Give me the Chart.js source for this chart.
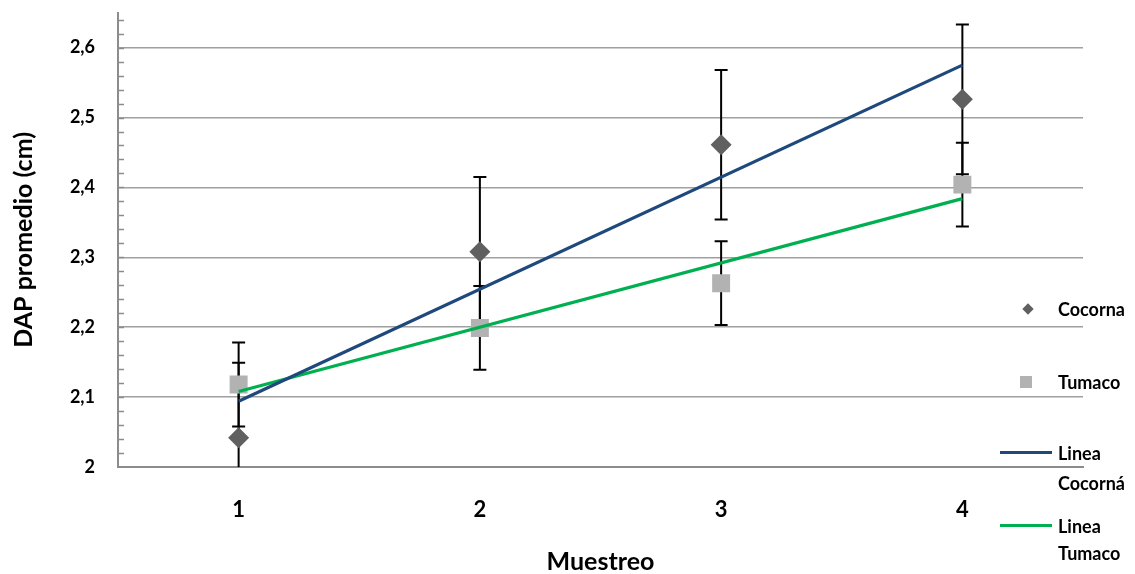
<!DOCTYPE html>
<html>
<head>
<meta charset="utf-8">
<script src="https://cdn.jsdelivr.net/npm/chart.js@4.4.0/dist/chart.umd.min.js"></script>
<style>
  body { margin: 0; background: #fff; }
  #wrap { position: relative; width: 1135px; height: 574px; }
  .lg { position: absolute; font: bold 18px Lato, sans-serif; line-height: 20px; color: #000; white-space: nowrap; }
  .mk { position: absolute; }
</style>
</head>
<body>
<div id="wrap">
  <canvas id="chart" width="1135" height="574"></canvas>
  <div class="mk" style="left:1024px;top:305px;width:8px;height:8px;background:#606060;transform:rotate(45deg)"></div>
  <div class="lg" style="left:1058px;top:299px">Cocorna</div>
  <div class="mk" style="left:1020px;top:376px;width:12px;height:12px;background:#b2b2b2"></div>
  <div class="lg" style="left:1058px;top:372px">Tumaco</div>
  <div class="mk" style="left:1000px;top:451px;width:52px;height:3px;background:#1f497d"></div>
  <div class="lg" style="left:1058px;top:443px">Linea</div>
  <div class="lg" style="left:1058px;top:473px">Cocorná</div>
  <div class="mk" style="left:1000px;top:524px;width:52px;height:3px;background:#00b050"></div>
  <div class="lg" style="left:1058px;top:516px">Linea</div>
  <div class="lg" style="left:1058px;top:543px">Tumaco</div>
</div>
<script>
// data
const categories = ["1", "2", "3", "4"];
const cocorna = [2.042, 2.308, 2.461, 2.526];
const tumaco = [2.118, 2.199, 2.263, 2.404];
const errCocorna = [0.107, 0.107, 0.107, 0.107];
const errTumaco = [0.06, 0.06, 0.06, 0.06];
// trend lines: only the end points, drawn straight across
const lineCocorna = [2.094, null, null, 2.575];
const lineTumaco = [2.108, null, null, 2.384];
const yMin = 2, yMax = 2.65, yStep = 0.1, yMinor = 0.02;

const isMajor = v => Math.abs(v / yStep - Math.round(v / yStep)) < 1e-6;
const fmt = v => (Math.round(v * 10) / 10).toString().replace(".", ",");

// error bars behind the markers
const errorBars = {
  id: "errorBars",
  beforeDatasetsDraw(chart) {
    const { ctx, chartArea: a, scales: { x, y } } = chart;
    ctx.save();
    ctx.beginPath();
    ctx.rect(a.left, a.top, a.right - a.left, a.bottom - a.top);
    ctx.clip();
    ctx.strokeStyle = "#000";
    ctx.lineWidth = 2;
    [[cocorna, errCocorna], [tumaco, errTumaco]].forEach(([vals, errs]) => {
      vals.forEach((v, i) => {
        const px = x.getPixelForValue(i);
        const top = y.getPixelForValue(v + errs[i]);
        const bot = y.getPixelForValue(v - errs[i]);
        ctx.beginPath();
        ctx.moveTo(px, top); ctx.lineTo(px, bot);
        ctx.moveTo(px - 6.5, top); ctx.lineTo(px + 6.5, top);
        ctx.moveTo(px - 6.5, bot); ctx.lineTo(px + 6.5, bot);
        ctx.stroke();
      });
    });
    ctx.restore();
  }
};

// small minor tick marks inside the y axis
const minorTicks = {
  id: "minorTicks",
  afterDraw(chart) {
    const { ctx, scales: { y } } = chart;
    ctx.save();
    ctx.strokeStyle = "#8c8c8c";
    ctx.lineWidth = 1.5;
    for (let v = yMin + yMinor; v < yMax - 0.005; v += yMinor) {
      const py = Math.round(y.getPixelForValue(v)) + 0.5;
      ctx.beginPath();
      ctx.moveTo(y.right, py);
      ctx.lineTo(y.right + 6, py);
      ctx.stroke();
    }
    ctx.restore();
  }
};

const ctx = document.getElementById("chart").getContext("2d");
new Chart(ctx, {
  type: "line",
  data: {
    labels: categories,
    datasets: [
      { label: "Linea Cocorná", data: lineCocorna, borderColor: "#1f497d", borderWidth: 3.2, pointRadius: 0, spanGaps: true, order: 0 },
      { label: "Linea Tumaco", data: lineTumaco, borderColor: "#00b050", borderWidth: 3.2, pointRadius: 0, spanGaps: true, order: 0 },
      { label: "Cocorna", data: cocorna, showLine: false, pointStyle: "rectRot", pointRadius: 10.5, backgroundColor: "#606060", borderColor: "#606060", borderWidth: 0, order: 1 },
      { label: "Tumaco", data: tumaco, showLine: false, pointStyle: "rect", pointRadius: 12.7, backgroundColor: "#b2b2b2", borderColor: "#b2b2b2", borderWidth: 0, order: 1 }
    ]
  },
  options: {
    responsive: false,
    animation: false,
    layout: { padding: { top: 11, right: 52, left: 0, bottom: 0 } },
    plugins: { legend: { display: false }, tooltip: { enabled: false } },
    scales: {
      x: {
        offset: true,
        grid: { display: false, drawTicks: false },
        border: { color: "#8c8c8c", width: 2 },
        ticks: { color: "#000", padding: 30, font: { family: "Lato", weight: "bold", size: 22 } },
        title: { display: true, text: "Muestreo", color: "#000", padding: 0, font: { family: "Lato", weight: "bold", size: 25, lineHeight: 1 } },
        afterFit: s => { s.height = 107; }
      },
      y: {
        min: yMin,
        max: yMax,
        afterBuildTicks: s => { s.ticks = s.ticks.filter(t => isMajor(t.value)); },
        ticks: { stepSize: yStep, color: "#000", padding: 23, callback: v => fmt(v), font: { family: "Lato", weight: "bold", size: 18 } },
        grid: { color: "#a0a0a0", lineWidth: 1.5, drawTicks: false },
        border: { color: "#8c8c8c", width: 2 },
        title: { display: true, text: "DAP promedio (cm)", color: "#000", padding: { top: 9, bottom: 0 }, font: { family: "Lato", weight: "bold", size: 25 } },
        afterFit: s => { s.width = 118; s.paddingTop = 0; s.paddingBottom = 0; }
      }
    }
  },
  plugins: [errorBars, minorTicks]
});
</script>
</body>
</html>
